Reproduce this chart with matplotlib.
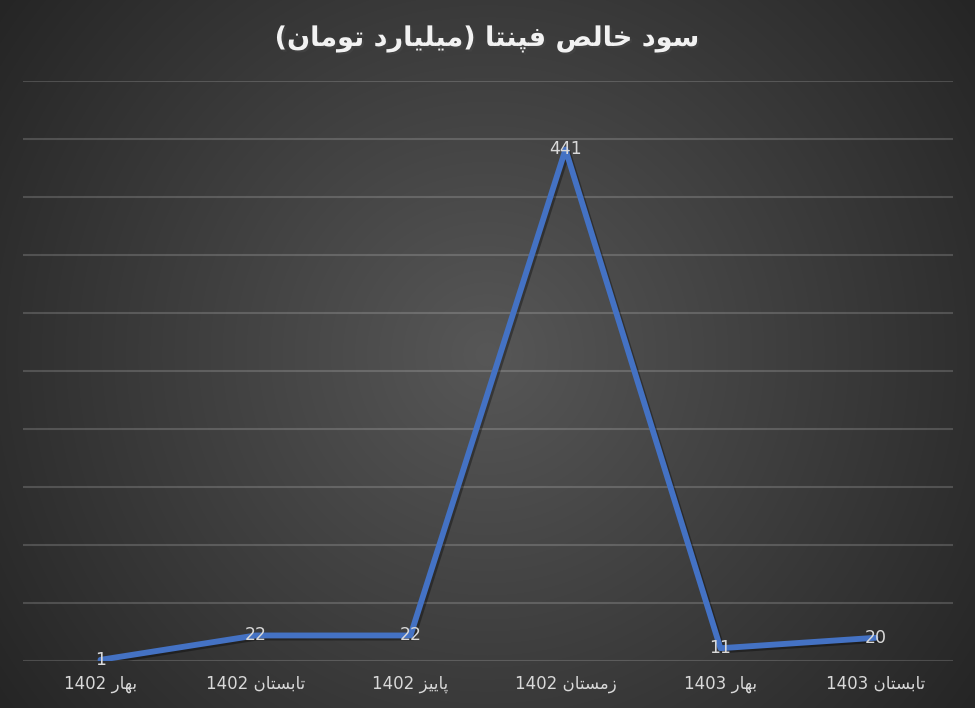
import numpy as np
import matplotlib
matplotlib.use("Agg")
import matplotlib.pyplot as plt
import matplotlib.patheffects as pe

# data (billion toman)
seasons = ["بهار", "تابستان", "پاییز", "زمستان", "بهار", "تابستان"]
years = [1402, 1402, 1402, 1402, 1403, 1403]
profit = [1, 22, 22, 441, 11, 20]
title = "سود خالص فپنتا (میلیارد تومان)"

# minimal arabic/persian shaping: isolated, final, initial, medial
FORMS = {
    "ا": ("\uFE8D", "\uFE8E", None, None),
    "ب": ("\uFE8F", "\uFE90", "\uFE91", "\uFE92"),
    "ت": ("\uFE95", "\uFE96", "\uFE97", "\uFE98"),
    "خ": ("\uFEA5", "\uFEA6", "\uFEA7", "\uFEA8"),
    "د": ("\uFEA9", "\uFEAA", None, None),
    "ر": ("\uFEAD", "\uFEAE", None, None),
    "ز": ("\uFEAF", "\uFEB0", None, None),
    "س": ("\uFEB1", "\uFEB2", "\uFEB3", "\uFEB4"),
    "ص": ("\uFEB9", "\uFEBA", "\uFEBB", "\uFEBC"),
    "ف": ("\uFED1", "\uFED2", "\uFED3", "\uFED4"),
    "ل": ("\uFEDD", "\uFEDE", "\uFEDF", "\uFEE0"),
    "م": ("\uFEE1", "\uFEE2", "\uFEE3", "\uFEE4"),
    "ن": ("\uFEE5", "\uFEE6", "\uFEE7", "\uFEE8"),
    "ه": ("\uFEE9", "\uFEEA", "\uFEEB", "\uFEEC"),
    "و": ("\uFEED", "\uFEEE", None, None),
    "پ": ("\uFB56", "\uFB57", "\uFB58", "\uFB59"),
    "ی": ("\uFBFC", "\uFBFD", "\uFBFE", "\uFBFF"),
}
MIRROR = {"(": ")", ")": "("}


def shape_rtl(text):
    out = []
    for i, ch in enumerate(text):
        if ch not in FORMS:
            out.append(MIRROR.get(ch, ch))
            continue
        prev = text[i - 1] if i > 0 else ""
        nxt = text[i + 1] if i + 1 < len(text) else ""
        joins_prev = prev in FORMS and FORMS[prev][2] is not None
        joins_next = nxt in FORMS and FORMS[ch][2] is not None
        iso, fin, ini, med = FORMS[ch]
        if joins_prev and joins_next:
            out.append(med)
        elif joins_prev:
            out.append(fin)
        elif joins_next:
            out.append(ini)
        else:
            out.append(iso)
    return "".join(out)[::-1]


labels = [f"{y} {shape_rtl(s)}" for s, y in zip(seasons, years)]
x = np.arange(len(profit))

fig = plt.figure(figsize=(9.75, 7.08), dpi=100)

# radial dark background, lighter in the middle
bg = fig.add_axes([0, 0, 1, 1], zorder=0)
px, py = np.meshgrid(np.arange(975), np.arange(708))
d = np.sqrt((px - 487) ** 2 + (py - 354) ** 2) / 602
shade = (0x57 - (0x57 - 0x25) * np.clip(d, 0, 1)) / 255
bg.imshow(np.dstack([shade] * 3), extent=[0, 1, 0, 1], aspect="auto", origin="upper")
bg.axis("off")

ax = fig.add_axes([0.0236, 0.0664, 0.9538, 0.8192], zorder=1)
ax.patch.set_alpha(0)
ax.plot(x, profit, color="#4472C4", linewidth=4.2, solid_capstyle="round",
        path_effects=[pe.SimpleLineShadow(offset=(1.5, -1.5), alpha=0.35), pe.Normal()])
for xi, v in zip(x, profit):
    ax.text(xi, v, str(v), ha="center", va="center", color="#d9d9d9", fontsize=12.5)

ax.set_xlim(-0.5, len(profit) - 0.5)
ax.set_ylim(0, 500)
ax.set_yticks(np.arange(0, 501, 50))
ax.set_yticklabels([])
ax.grid(axis="y", color="white", alpha=0.17, linewidth=1.5)
ax.set_axisbelow(True)
ax.tick_params(axis="y", length=0)
ax.set_xticks(x)
ax.set_xticklabels(labels, color="#d9d9d9", fontsize=12, family="DejaVu Sans")
ax.tick_params(axis="x", length=0, pad=10)
for s in ax.spines.values():
    s.set_visible(False)

fig.text(0.5, 0.945, shape_rtl(title), ha="center", va="center", color="#f2f2f2",
         fontsize=19.5, fontweight="bold", family="DejaVu Sans",
         path_effects=[pe.withSimplePatchShadow(offset=(1.5, -1.5), alpha=0.5)])

fig.savefig("out.png", dpi=100)
